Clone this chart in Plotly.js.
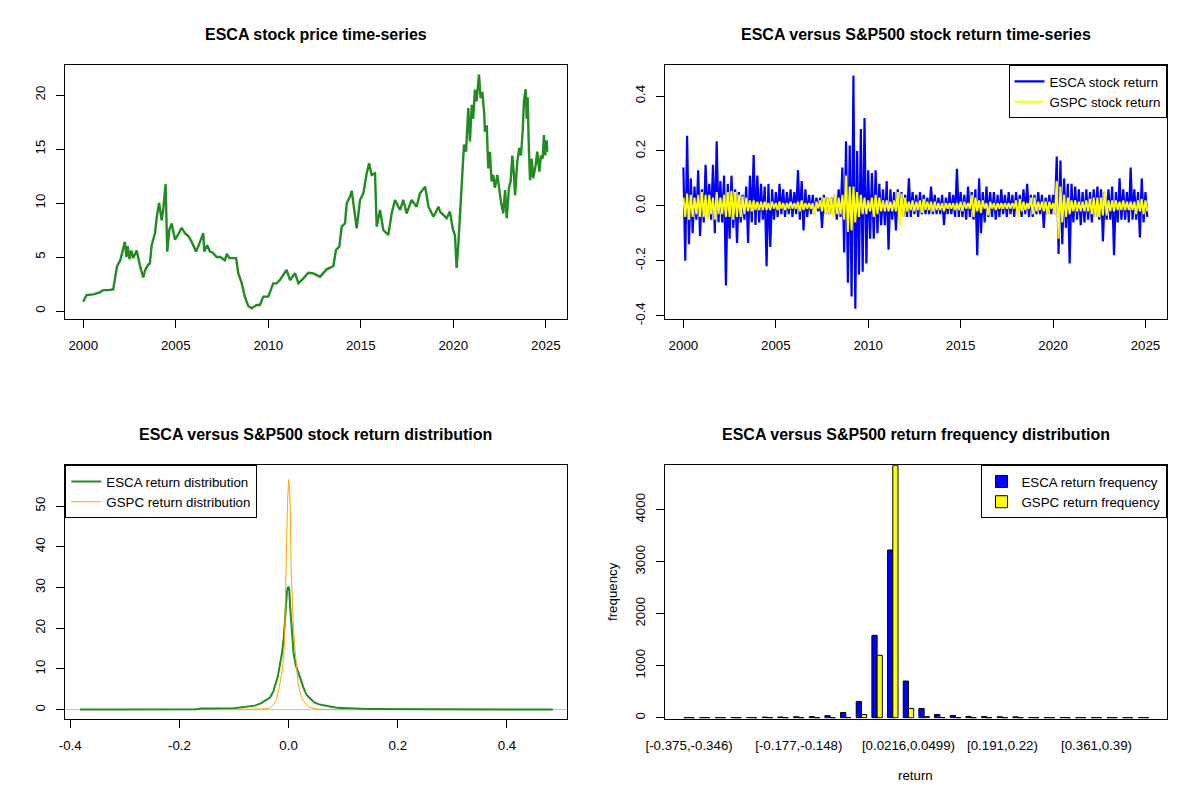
<!DOCTYPE html>
<html>
<head>
<meta charset="utf-8">
<script src="https://cdn.plot.ly/plotly-3.0.1.min.js"></script>
<style>html,body{margin:0;padding:0;background:#fff;} #chart{width:1200px;height:800px;}</style>
</head>
<body>
<div id="chart"></div>
<script>
// ---------- Panel 1: ESCA price ----------
const priceYears = [2000.00,2000.18,2000.54,2000.90,2001.08,2001.35,2001.62,2001.71,2001.82,2002.00,2002.25,2002.33,2002.40,2002.50,2002.60,2002.70,2002.89,2003.05,2003.24,2003.35,2003.51,2003.60,2003.70,2003.88,2003.97,2004.10,2004.24,2004.32,2004.45,2004.54,2004.65,2004.78,2004.96,2005.10,2005.32,2005.50,2005.70,2005.86,2006.10,2006.31,2006.49,2006.54,2006.70,2006.85,2007.00,2007.21,2007.40,2007.66,2007.76,2007.90,2008.12,2008.26,2008.38,2008.56,2008.74,2008.92,2009.10,2009.37,2009.55,2009.73,2010.00,2010.27,2010.45,2010.63,2010.99,2011.18,2011.45,2011.63,2011.90,2012.17,2012.44,2012.80,2013.16,2013.52,2013.66,2013.84,2013.97,2014.15,2014.24,2014.42,2014.51,2014.64,2014.78,2014.96,2015.14,2015.32,2015.45,2015.59,2015.77,2015.86,2016.04,2016.22,2016.49,2016.67,2016.85,2017.12,2017.30,2017.48,2017.75,2018.02,2018.20,2018.48,2018.66,2018.93,2019.20,2019.28,2019.64,2019.82,2019.97,2020.09,2020.18,2020.27,2020.40,2020.51,2020.58,2020.69,2020.81,2020.90,2021.00,2021.08,2021.17,2021.26,2021.39,2021.48,2021.57,2021.68,2021.71,2021.81,2021.89,2021.98,2022.07,2022.16,2022.25,2022.38,2022.49,2022.58,2022.70,2022.80,2022.89,2023.01,2023.10,2023.19,2023.28,2023.34,2023.46,2023.57,2023.66,2023.75,2023.82,2023.91,2023.97,2024.02,2024.08,2024.15,2024.24,2024.32,2024.45,2024.54,2024.65,2024.74,2024.83,2024.90,2024.97,2025.05,2025.08];
const priceValues = [0.86,1.48,1.54,1.73,1.94,1.94,2.01,2.87,4.10,4.70,6.40,5.00,6.00,4.80,5.60,4.90,5.60,4.30,3.10,3.80,4.30,4.40,6.10,7.20,8.70,10.00,8.40,9.35,11.76,5.50,7.50,8.10,6.60,7.00,7.70,7.20,6.90,6.40,5.50,6.40,7.20,5.50,6.10,5.50,5.40,5.00,5.00,4.70,5.30,4.90,4.90,4.90,3.50,2.60,1.30,0.46,0.25,0.56,0.56,1.33,1.33,2.56,2.56,2.87,3.80,2.87,3.49,2.56,3.02,3.55,3.49,3.18,3.86,4.17,5.65,5.96,7.81,8.12,9.97,10.59,11.14,9.66,7.65,10.28,10.90,12.75,13.67,12.59,12.75,7.81,9.35,7.50,7.04,9.04,10.28,9.35,10.28,9.04,10.28,9.66,10.90,11.51,9.66,8.73,9.66,9.20,8.60,9.20,7.65,7.00,4.00,6.10,10.10,12.30,15.40,14.75,18.80,15.70,19.10,17.80,20.50,19.40,21.90,19.70,20.30,18.10,16.60,17.20,13.20,14.75,12.00,12.60,11.40,12.60,11.05,10.10,9.05,11.20,8.60,11.40,12.00,14.40,12.60,10.70,13.80,15.10,14.40,16.60,19.40,20.55,17.80,19.80,15.40,12.10,14.10,12.30,13.50,14.75,12.90,14.40,14.10,16.30,14.40,15.80,14.75];

// ---------- Panel 2: returns (sampled every retStep years from retStart) ----------
const retStart = 2000.0;
const retStep = 0.1;
const escaReturns = [
 0.14,-0.20,0.255,-0.14,0.10,-0.10,0.07,-0.05,0.13,-0.11,
 0.06,-0.06,0.15,-0.04,0.08,-0.05,0.15,-0.10,0.235,-0.06,
 0.09,-0.06,0.11,-0.29,0.08,-0.12,0.11,-0.08,0.06,-0.135,
 0.05,-0.06,0.04,-0.05,0.07,-0.135,0.11,-0.06,0.185,-0.07,
 0.11,-0.06,0.08,-0.05,0.07,-0.22,0.08,-0.15,0.06,-0.05,
 0.05,-0.04,0.08,-0.03,0.06,-0.04,0.05,-0.03,0.06,-0.04,
 0.05,-0.03,0.13,-0.05,0.09,-0.09,0.06,-0.04,0.04,-0.03,
 0.04,-0.03,0.03,-0.02,0.03,-0.08,0.04,-0.03,0.03,-0.03,
 0.03,-0.03,0.04,-0.05,0.06,-0.04,0.14,-0.17,0.235,-0.28,
 0.22,-0.33,0.475,-0.375,0.20,-0.25,0.28,-0.24,0.32,-0.21,
 0.13,-0.12,0.12,-0.12,0.13,-0.10,0.08,-0.07,0.06,-0.07,
 0.09,-0.16,0.06,-0.05,0.05,-0.09,0.06,-0.05,0.05,-0.04,
 0.04,-0.04,0.10,-0.04,0.05,-0.03,0.04,-0.04,0.05,-0.03,
 0.04,-0.03,0.03,-0.03,0.07,-0.03,0.04,-0.03,0.03,-0.03,
 0.04,-0.07,0.03,-0.03,0.05,-0.03,0.04,-0.04,0.135,-0.04,
 0.05,-0.04,0.04,-0.05,0.07,-0.04,0.05,-0.05,0.06,-0.18,
 0.10,-0.10,0.05,-0.06,0.07,-0.04,0.05,-0.04,0.05,-0.05,
 0.04,-0.04,0.06,-0.03,0.04,-0.04,0.05,-0.03,0.04,-0.04,
 0.05,-0.03,0.04,-0.04,0.06,-0.03,0.08,-0.04,0.04,-0.04,
 0.04,-0.03,0.05,-0.03,0.04,-0.08,0.03,-0.03,0.04,-0.03,
 0.04,-0.03,0.18,-0.175,0.165,-0.14,0.10,-0.08,0.08,-0.21,
 0.08,-0.06,0.07,-0.05,0.06,-0.07,0.05,-0.06,0.06,-0.05,
 0.05,-0.06,0.06,-0.04,0.07,-0.05,0.06,-0.13,0.05,-0.05,
 0.06,-0.05,0.07,-0.18,0.05,-0.06,0.10,-0.05,0.06,-0.05,
 0.05,-0.06,0.14,-0.05,0.06,-0.05,0.05,-0.115,0.10,-0.06,
 0.05,-0.04];
const gspcReturns = [
 0.03,-0.04,0.045,-0.05,0.04,-0.04,0.03,-0.03,0.04,-0.04,
 0.05,-0.04,0.04,-0.05,0.04,-0.03,0.03,-0.05,0.05,-0.03,
 0.03,-0.03,0.04,-0.04,0.05,-0.04,0.055,-0.05,0.05,-0.04,
 0.04,-0.04,0.035,-0.03,0.03,-0.02,0.02,-0.02,0.02,-0.015,
 0.015,-0.015,0.015,-0.015,0.015,-0.015,0.01,-0.015,0.015,-0.01,
 0.01,-0.015,0.015,-0.01,0.01,-0.015,0.01,-0.01,0.015,-0.01,
 0.01,-0.01,0.015,-0.02,0.02,-0.015,0.01,-0.01,0.01,-0.01,
 0.01,-0.035,0.015,-0.01,0.02,-0.02,0.03,-0.03,0.03,-0.03,
 0.03,-0.04,0.04,-0.03,0.03,-0.03,0.04,-0.05,0.11,-0.095,
 0.07,-0.09,0.07,-0.06,0.05,-0.04,0.04,-0.03,0.03,-0.03,
 0.02,-0.02,0.03,-0.04,0.04,-0.03,0.03,-0.02,0.02,-0.02,
 0.02,-0.02,0.015,-0.02,0.02,-0.02,0.05,-0.07,0.045,-0.04,
 0.03,-0.02,0.015,-0.015,0.02,-0.02,0.015,-0.015,0.02,-0.025,
 0.025,-0.015,0.015,-0.015,0.015,-0.02,0.015,-0.015,0.01,-0.015,
 0.01,-0.02,0.01,-0.01,0.01,-0.01,0.01,-0.015,0.01,-0.015,
 0.015,-0.02,0.015,-0.01,0.01,-0.01,0.04,-0.04,0.03,-0.02,
 0.02,-0.025,0.02,-0.01,0.01,-0.035,0.015,-0.01,0.01,-0.015,
 0.01,-0.01,0.01,-0.01,0.01,-0.01,0.01,-0.01,0.01,-0.01,
 0.02,-0.04,0.025,-0.02,0.015,-0.015,0.01,-0.01,0.03,-0.03,
 0.03,-0.02,0.015,-0.015,0.015,-0.02,0.015,-0.03,0.015,-0.01,
 0.01,-0.03,0.09,-0.12,0.07,-0.06,0.04,-0.04,0.03,-0.03,
 0.02,-0.02,0.02,-0.02,0.015,-0.02,0.015,-0.02,0.02,-0.02,
 0.025,-0.03,0.03,-0.04,0.03,-0.04,0.03,-0.035,0.055,-0.035,
 0.02,-0.02,0.02,-0.02,0.02,-0.015,0.015,-0.015,0.02,-0.015,
 0.015,-0.015,0.015,-0.015,0.015,-0.03,0.02,-0.02,0.025,-0.03,
 0.02,-0.02];

// ---------- Panel 3: densities ----------
const escaDensX = [-0.382,-0.30,-0.20,-0.17,-0.16,-0.14,-0.12,-0.10,-0.09,-0.075,-0.062,-0.05,-0.042,-0.034,-0.028,-0.024,-0.020,-0.016,-0.012,-0.009,-0.006,-0.003,-0.001,0.001,0.003,0.006,0.009,0.013,0.017,0.022,0.027,0.033,0.040,0.047,0.056,0.065,0.078,0.09,0.11,0.13,0.15,0.19,0.21,0.25,0.35,0.484];
const escaDensY = [0.03,0.03,0.05,0.1,0.3,0.25,0.3,0.35,0.55,0.7,1.0,1.6,2.2,3.0,4.5,6.3,8.0,11.0,14.0,17.5,24.0,29.0,30.2,29.8,25.0,18.0,14.0,11.0,9.4,7.0,5.5,3.6,2.6,1.8,1.3,1.0,0.7,0.45,0.3,0.25,0.2,0.2,0.1,0.05,0.03,0.03];
const gspcDensX = [-0.13,-0.10,-0.08,-0.06,-0.045,-0.034,-0.028,-0.022,-0.019,-0.016,-0.013,-0.011,-0.008,-0.006,-0.004,-0.002,0.0,0.0015,0.003,0.0046,0.0065,0.0084,0.011,0.0133,0.0155,0.0175,0.022,0.0267,0.033,0.039,0.047,0.057,0.07,0.09,0.12];
const gspcDensY = [0.02,0.05,0.08,0.1,0.2,0.4,1.2,2.6,4.2,6.3,8.5,10.4,15.3,24.3,38.3,50.6,56.5,55.0,50.6,34.2,27.0,21.9,16.0,12.0,8.5,6.3,3.8,2.2,1.2,0.6,0.3,0.1,0.05,0.1,0.02];

// ---------- Panel 4: frequency by return bin ----------
const binLabels = ["[-0.375,-0.346)","[-0.346,-0.318)","[-0.318,-0.29)","[-0.29,-0.262)","[-0.262,-0.233)","[-0.233,-0.205)","[-0.205,-0.177)","[-0.177,-0.148)","[-0.148,-0.12)","[-0.12,-0.0917)","[-0.0917,-0.0633)","[-0.0633,-0.035)","[-0.035,-0.00671)","[-0.00671,0.0216)","[0.0216,0.0499)","[0.0499,0.0782)","[0.0782,0.107)","[0.107,0.135)","[0.135,0.163)","[0.163,0.191)","[0.191,0.22)","[0.22,0.248)","[0.248,0.276)","[0.276,0.305)","[0.305,0.333)","[0.333,0.361)","[0.361,0.39)","[0.39,0.418)","[0.418,0.446)","[0.446,0.475]"];
const escaFreq = [1,1,2,2,3,12,14,18,20,40,100,312,1585,3226,705,178,62,43,25,22,18,17,3,2,2,1,1,1,0,1];
const gspcFreq = [0,0,0,0,0,0,0,0,0,1,3,62,1200,4850,178,22,4,1,0,0,0,0,0,0,0,0,0,0,0,0];
const shownBins = [1,8,15,21,27];

// ---------- build ----------
const retDates = escaReturns.map((_, i) => +(retStart + i * retStep).toFixed(2));
const binPos = binLabels.map((_, i) => i + 1);

const FONT = 'Liberation Sans, Arial, Helvetica, sans-serif';
function ax(extra) {
  return Object.assign({
    showgrid: false, zeroline: false, showline: true, mirror: true,
    linecolor: 'black', linewidth: 1, ticks: 'outside', ticklen: 8,
    tickwidth: 1, tickcolor: 'black', ticklabelstandoff: 6,
    tickfont: {family: FONT, size: 13.3, color: 'black'}
  }, extra);
}
const DX1 = [65.3/1200, 566.5/1200], DX2 = [665.3/1200, 1166.5/1200];
const DYT = [1-318.7/800, 1-65.3/800], DYB = [1-718.7/800, 1-465.3/800];

const traces = [
  {x: priceYears, y: priceValues, type: 'scatter', mode: 'lines', line: {color: '#228B22', width: 2.4},
   xaxis: 'x', yaxis: 'y', showlegend: false, hoverinfo: 'skip'},
  {x: retDates, y: escaReturns, type: 'scatter', mode: 'lines', line: {color: 'blue', width: 2.2},
   xaxis: 'x2', yaxis: 'y2', name: 'ESCA stock return', legend: 'legend'},
  {x: retDates, y: gspcReturns, type: 'scatter', mode: 'lines', line: {color: 'yellow', width: 2},
   xaxis: 'x2', yaxis: 'y2', name: 'GSPC stock return', legend: 'legend'},
  {x: escaDensX, y: escaDensY, type: 'scatter', mode: 'lines', line: {color: '#228B22', width: 2},
   xaxis: 'x3', yaxis: 'y3', name: 'ESCA return distribution', legend: 'legend2'},
  {x: gspcDensX, y: gspcDensY, type: 'scatter', mode: 'lines', line: {color: 'orange', width: 1},
   xaxis: 'x3', yaxis: 'y3', name: 'GSPC return distribution', legend: 'legend2'},
  {x: binPos, y: escaFreq, type: 'bar', marker: {color: 'blue', line: {color: 'black', width: 1}},
   xaxis: 'x4', yaxis: 'y4', name: 'ESCA return frequency', legend: 'legend3'},
  {x: binPos, y: gspcFreq, type: 'bar', marker: {color: 'yellow', line: {color: 'black', width: 1}},
   xaxis: 'x4', yaxis: 'y4', name: 'GSPC return frequency', legend: 'legend3'}
];

const legBase = {bgcolor: 'white', bordercolor: 'black', borderwidth: 1,
  font: {family: FONT, size: 13.3, color: 'black'}, itemwidth: 30, tracegroupgap: 0, yanchor: 'top'};

const tickFmt = v => v.toFixed(1);
const retTicks = [-0.4, -0.2, 0, 0.2, 0.4];

const layout = {
  width: 1200, height: 800, margin: {l: 0, r: 0, t: 0, b: 0},
  paper_bgcolor: 'white', plot_bgcolor: 'white',
  font: {family: FONT, color: 'black'},
  barmode: 'group', bargap: 1/3, bargroupgap: 0,
  xaxis: ax({domain: DX1, anchor: 'y', range: [1999.03, 2026.12], tickvals: [2000,2005,2010,2015,2020,2025]}),
  yaxis: ax({domain: DYT, anchor: 'x', range: [-0.71, 22.75], tickvals: [0,5,10,15,20], tickangle: -90}),
  xaxis2: ax({domain: DX2, anchor: 'y2', range: [1999.02, 2026.14], tickvals: [2000,2005,2010,2015,2020,2025]}),
  yaxis2: ax({domain: DYT, anchor: 'x2', range: [-0.411, 0.512], tickvals: retTicks,
    ticktext: retTicks.map(tickFmt), tickangle: -90}),
  xaxis3: ax({domain: DX1, anchor: 'y3', range: [-0.409, 0.509], tickvals: retTicks, ticktext: retTicks.map(tickFmt)}),
  yaxis3: ax({domain: DYB, anchor: 'x3', range: [-2.21, 60.0], tickvals: [0,10,20,30,40,50], tickangle: -90}),
  xaxis4: ax({domain: DX2, anchor: 'y4', range: [-0.52, 31.47], ticks: '',
    tickvals: shownBins, ticktext: shownBins.map(b => binLabels[b-1]), ticklabelstandoff: 14}),
  yaxis4: ax({domain: DYB, anchor: 'x4', range: [-19, 4855], tickvals: [0,1000,2000,3000,4000], tickangle: -90}),
  legend: Object.assign({}, legBase, {x: DX2[1], xanchor: 'right', y: DYT[1]}),
  legend2: Object.assign({}, legBase, {x: DX1[0], xanchor: 'left', y: DYB[1]}),
  legend3: Object.assign({}, legBase, {x: DX2[1], xanchor: 'right', y: DYB[1]}),
  shapes: [
    {type: 'line', xref: 'x3 domain', yref: 'y3', x0: 0, x1: 1, y0: 0, y1: 0,
     line: {color: '#BEBEBE', width: 1}, layer: 'below'}
  ],
  annotations: [
    {text: '<b>ESCA stock price time-series</b>', x: (DX1[0]+DX1[1])/2, y: 1-35/800},
    {text: '<b>ESCA versus S&amp;P500 stock return time-series</b>', x: (DX2[0]+DX2[1])/2, y: 1-35/800},
    {text: '<b>ESCA versus S&amp;P500 stock return distribution</b>', x: (DX1[0]+DX1[1])/2, y: 1-435/800},
    {text: '<b>ESCA versus S&amp;P500 return frequency distribution</b>', x: (DX2[0]+DX2[1])/2, y: 1-435/800},
  ].map(a => Object.assign({xref: 'paper', yref: 'paper', showarrow: false, xanchor: 'center', yanchor: 'middle',
    font: {family: FONT, size: 16, color: 'black'}}, a)).concat([
    {text: 'return', xref: 'paper', yref: 'paper', x: (DX2[0]+DX2[1])/2, y: 1-775/800, showarrow: false,
     xanchor: 'center', yanchor: 'middle', font: {family: FONT, size: 13.3, color: 'black'}},
    {text: 'frequency', xref: 'paper', yref: 'paper', x: 612/1200, y: (DYB[0]+DYB[1])/2, showarrow: false,
     textangle: -90, xanchor: 'center', yanchor: 'middle', font: {family: FONT, size: 13.3, color: 'black'}}
  ])
};

Plotly.newPlot('chart', traces, layout, {staticPlot: true, displayModeBar: false});
</script>
</body>
</html>
